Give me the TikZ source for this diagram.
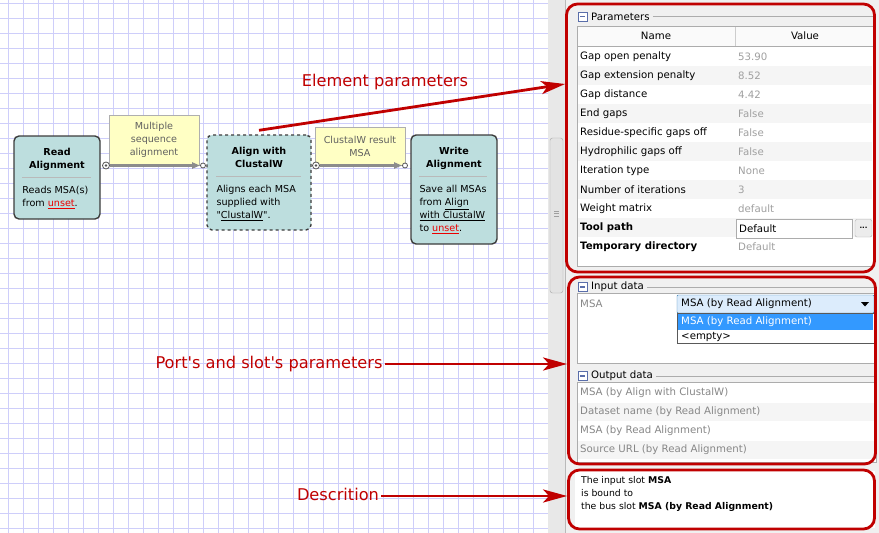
\documentclass[tikz,border=0pt]{standalone}
\usepackage{fontspec}
\setmainfont{DejaVu Sans}[Ligatures=TeXOff]
\usepackage{tikz}
\usetikzlibrary{arrows.meta,positioning}
\definecolor{wfgrid}{RGB}{206,206,250}
\definecolor{wfteal}{RGB}{189,222,222}
\definecolor{wfedge}{RGB}{60,60,60}
\definecolor{wfyellow}{RGB}{255,255,196}
\definecolor{wftagedge}{RGB}{175,175,175}
\definecolor{wfwire}{RGB}{140,140,140}
\definecolor{mkred}{RGB}{192,0,0}
\definecolor{lnkred}{RGB}{235,0,0}
\definecolor{uibg}{RGB}{240,240,240}
\definecolor{uitrack}{RGB}{232,232,232}
\definecolor{uirow}{RGB}{245,245,245}
\definecolor{uiedge}{RGB}{172,172,172}
\definecolor{uigray}{RGB}{160,160,160}
\definecolor{uidim}{RGB}{135,135,135}
\definecolor{uisel}{RGB}{51,153,255}
\definecolor{uicombo}{RGB}{220,236,252}
\definecolor{uicomboedge}{RGB}{60,127,177}
\definecolor{uiicon}{RGB}{90,110,170}
\newcommand{\wffont}{\fontsize{9.6}{13}\selectfont}
\newcommand{\uifont}{\fontsize{10.2}{12}\selectfont}
\newcommand{\mkfont}{\fontsize{16.2}{19}\selectfont}
\newcommand{\grpicon}[2]{%
  \draw[uiicon, fill=white, line width=0.8] (#1-4.5,#2-4.5) rectangle (#1+4.5,#2+4.5);
  \draw[uiicon, line width=1.2] (#1-2.5,#2) -- (#1+2.5,#2);}

\begin{document}
\begin{tikzpicture}[x=1pt, y=-1pt,
  wfbox/.style={draw=wfedge, fill=wfteal, line width=1.4, rounded corners=5, inner sep=0},
  wftitle/.style={font=\wffont\bfseries, align=center, inner sep=0},
  wftext/.style={font=\wffont, align=left, inner sep=0},
  wfsep/.style={draw=gray!55, line width=0.8},
  wftag/.style={draw=wftagedge, fill=wfyellow, font=\wffont, text=gray!75!black, align=center, inner sep=0},
  wfport/.style={circle, draw=gray!65!black, fill=white, line width=0.8, minimum size=7, inner sep=0,
    path picture={\fill[gray!65!black] (path picture bounding box.center) circle (1.4);}},
  wfin/.style={circle, draw=gray!65!black, fill=white, line width=0.8, minimum size=5, inner sep=0},
  wfline/.style={draw=wfwire, line width=2.2, -{Triangle[length=8pt,width=6pt]}},
  mkbox/.style={draw=mkred, line width=2.8, rounded corners=11, inner sep=0},
  mklabel/.style={font=\mkfont, text=mkred, inner sep=2},
  mkarrow/.style={draw=mkred, line width=2.8, -{Stealth[length=24pt,width=13pt,inset=6pt]}},
  uiname/.style={font=\uifont, anchor=west, inner sep=0},
  uival/.style={font=\uifont, text=uigray, anchor=west, inner sep=0},
  uiout/.style={font=\uifont, text=uidim, anchor=west, inner sep=0}]
\useasboundingbox (0,0) rectangle (879,533);
% -- workflow canvas --
\fill[white] (0,0) rectangle (548,533);
\foreach \gx in {0,...,35}
  \draw[wfgrid, line width=0.9] (8.3+15*\gx,0) -- (8.3+15*\gx,533);
\foreach \gy in {0,...,35}
  \draw[wfgrid, line width=0.9] (0,3.3+15*\gy) -- (548,3.3+15*\gy);

% elements
\node[wfbox, minimum width=86, minimum height=83] (rdnode) at (57,177.5) {};
\node[wfbox, dashed, minimum width=104, minimum height=95] (alnode) at (259,182.5) {};
\node[wfbox, minimum width=86, minimum height=109] (wrnode) at (454,189.5) {};
\node[wftitle, below=12.5pt of rdnode.north] (rdtitle) {Read\\Alignment};
\node[wftitle, below=12.5pt of alnode.north] (altitle) {Align with\\ClustalW};
\node[wftitle, below=12.5pt of wrnode.north] (wrtitle) {Write\\Alignment};
\draw[wfsep] ([xshift=9pt,yshift=-42pt]rdnode.north west) -- ++(69,0);
\draw[wfsep] ([xshift=10pt,yshift=-42pt]alnode.north west) -- ++(85,0);
\draw[wfsep] ([xshift=9pt,yshift=-42pt]wrnode.north west) -- ++(68,0);
\node[wftext, anchor=north west] (rdbody) at ([xshift=9pt,yshift=-51pt]rdnode.north west)
  {Reads MSA(s)\\from {\color{lnkred}\underline{unset}}.};
\node[wftext, anchor=north west] (albody) at ([xshift=10pt,yshift=-51pt]alnode.north west)
  {Aligns each MSA\\supplied with\\"\underline{ClustalW}".};
\node[wftext, anchor=north west] (wrbody) at ([xshift=9pt,yshift=-51pt]wrnode.north west)
  {Save all MSAs\\from \underline{Align}\\\underline{with ClustalW}\\to {\color{lnkred}\underline{unset}}.};

% links
\node[wftag, minimum width=90, minimum height=50] (tag1) at (154,140) {Multiple\\sequence\\alignment};
\node[wftag, minimum width=90, minimum height=38] (tag2) at (360,146) {ClustalW result\\MSA};
\node[wfport] (rdout) at (106,165.5) {};
\node[wfin] (alin) at (203,165.5) {};
\node[wfport] (alout) at (316,165.5) {};
\node[wfin] (wrin) at (405,165.5) {};
\draw[wfline] (rdout) -- (alin);
\draw[wfline] (alout) -- (wrin);

% -- property panel --
\fill[uibg] (548,0) rectangle (879,533);
\fill[uitrack] (548,0) rectangle (565,533);
\draw[gray!70, fill=gray!22, rounded corners=2.5] (550,138) rectangle (563,293);
\foreach \gy in {211,213.5,216}
  \draw[gray!75, line width=0.8] (554,\gy) -- (559,\gy);
\draw[gray!55] (565,0) -- (565,533);

% parameters
\grpicon{582.5}{16.5}
\node[uiname] (grppar) at (591,16.5) {Parameters};
\draw[uiedge] ([xshift=3pt]grppar.east) -- (873,16.5);
\draw[uiedge, fill=white] (577,26) rectangle (873,266);
\fill[gray!4] (577.5,26.5) rectangle (872.5,46);
\draw[uiedge] (577,46) -- (873,46);
\draw[uiedge!60] (735,27) -- (735,46);
\node[font=\uifont, inner sep=0] (hdname) at (656,36) {Name};
\node[font=\uifont, inner sep=0] (hdval) at (805,36) {Value};
\foreach \i in {1,3,5,7,9}
  \fill[uirow] (578,{47+19*\i}) rectangle (872,{66+19*\i});
\foreach \nm/\vl [count=\i from 0] in {Gap open penalty/53.90, Gap extension penalty/8.52,
    Gap distance/4.42, End gaps/False, Residue-specific gaps off/False,
    Hydrophilic gaps off/False, Iteration type/None, Number of iterations/3, Weight matrix/default}{
  \node[uiname] (pn\i) at (580,{57+19*\i}) {\nm};
  \node[uival] (pv\i) at (738,{57+19*\i}) {\vl};
}
\node[uiname, font=\uifont\bfseries] (pn9) at (580,228) {Tool path};
\draw[uiedge, fill=white] (736,219) rectangle (852,238);
\node[uiname] (pv9) at (739,228.5) {Default};
\draw[gray!60, fill=gray!15, rounded corners=2] (855,219.5) rectangle (872,237);
\node[font=\fontsize{7}{8}\selectfont\bfseries, inner sep=0] (pbtn) at (863.5,228) {...};
\node[uiname, font=\uifont\bfseries] (pn10) at (580,247) {Temporary directory};
\node[uival] (pv10) at (738,247) {Default};

% input data
\grpicon{582.5}{287}
\node[uiname] (grpin) at (591,287) {Input data};
\draw[uiedge] ([xshift=3pt]grpin.east) -- (875,287);
\draw[uiedge, fill=white] (577,293) rectangle (876,363);
\node[uiout] (inmsa) at (580,303.5) {MSA};
\draw[uicomboedge, fill=uicombo, rounded corners=1] (677,295) rectangle (874,313);
\node[uiname] (combo) at (681,304) {MSA (by Read Alignment)};
\fill (861,302) -- (869,302) -- (865,306.5) -- cycle;
\draw[gray!70!black, fill=white] (677,313) rectangle (874,343);
\fill[uisel] (678,313.5) rectangle (873,330);
\node[uiname, text=white] (opt1) at (681,321.5) {MSA (by Read Alignment)};
\node[uiname] (opt2) at (681,336.5) {<empty>};

% output data
\grpicon{582.5}{376}
\node[uiname] (grpout) at (591,376) {Output data};
\draw[uiedge] ([xshift=3pt]grpout.east) -- (875,376);
\draw[uiedge, fill=white] (577,382) rectangle (876,462);
\fill[uirow] (578,403) rectangle (875,421);
\fill[uirow] (578,441) rectangle (875,459);
\foreach \txt [count=\i from 0] in {MSA (by Align with ClustalW), Dataset name (by Read Alignment),
    MSA (by Read Alignment), Source URL (by Read Alignment)}
  \node[uiout] (out\i) at (580,{393+19*\i}) {\txt};

% description
\fill[white] (575,471) rectangle (875,528);
\node[font=\fontsize{9.3}{13}\selectfont, align=left, anchor=north west, inner sep=0] (desc) at (581,476.5)
  {The input slot \textbf{MSA}\\is bound to\\the bus slot \textbf{MSA (by Read Alignment)}};

% -- red marks --
\node[mkbox, minimum width=308, minimum height=268] (parbox) at (720.5,138) {};
\node[mkbox, minimum width=307, minimum height=187] (iobox) at (722,370.5) {};
\node[mkbox, minimum width=306, minimum height=59] (descbox) at (721.5,499.5) {};
\node[mklabel] (elemlbl) at (385,82) {Element parameters};
\node[mklabel] (portlbl) at (269,364) {Port's and slot's parameters};
\node[mklabel] (desclbl) at (338,494) {Descrition};
\draw[mkarrow] ([yshift=4pt]alnode.north) -- (parbox.west |- 0,84);
\draw[mkarrow] (portlbl.east |- 0,364) -- (iobox.west |- 0,364);
\draw[mkarrow] (desclbl.east |- 0,496) -- (descbox.west |- 0,496);
\end{tikzpicture}
\end{document}
